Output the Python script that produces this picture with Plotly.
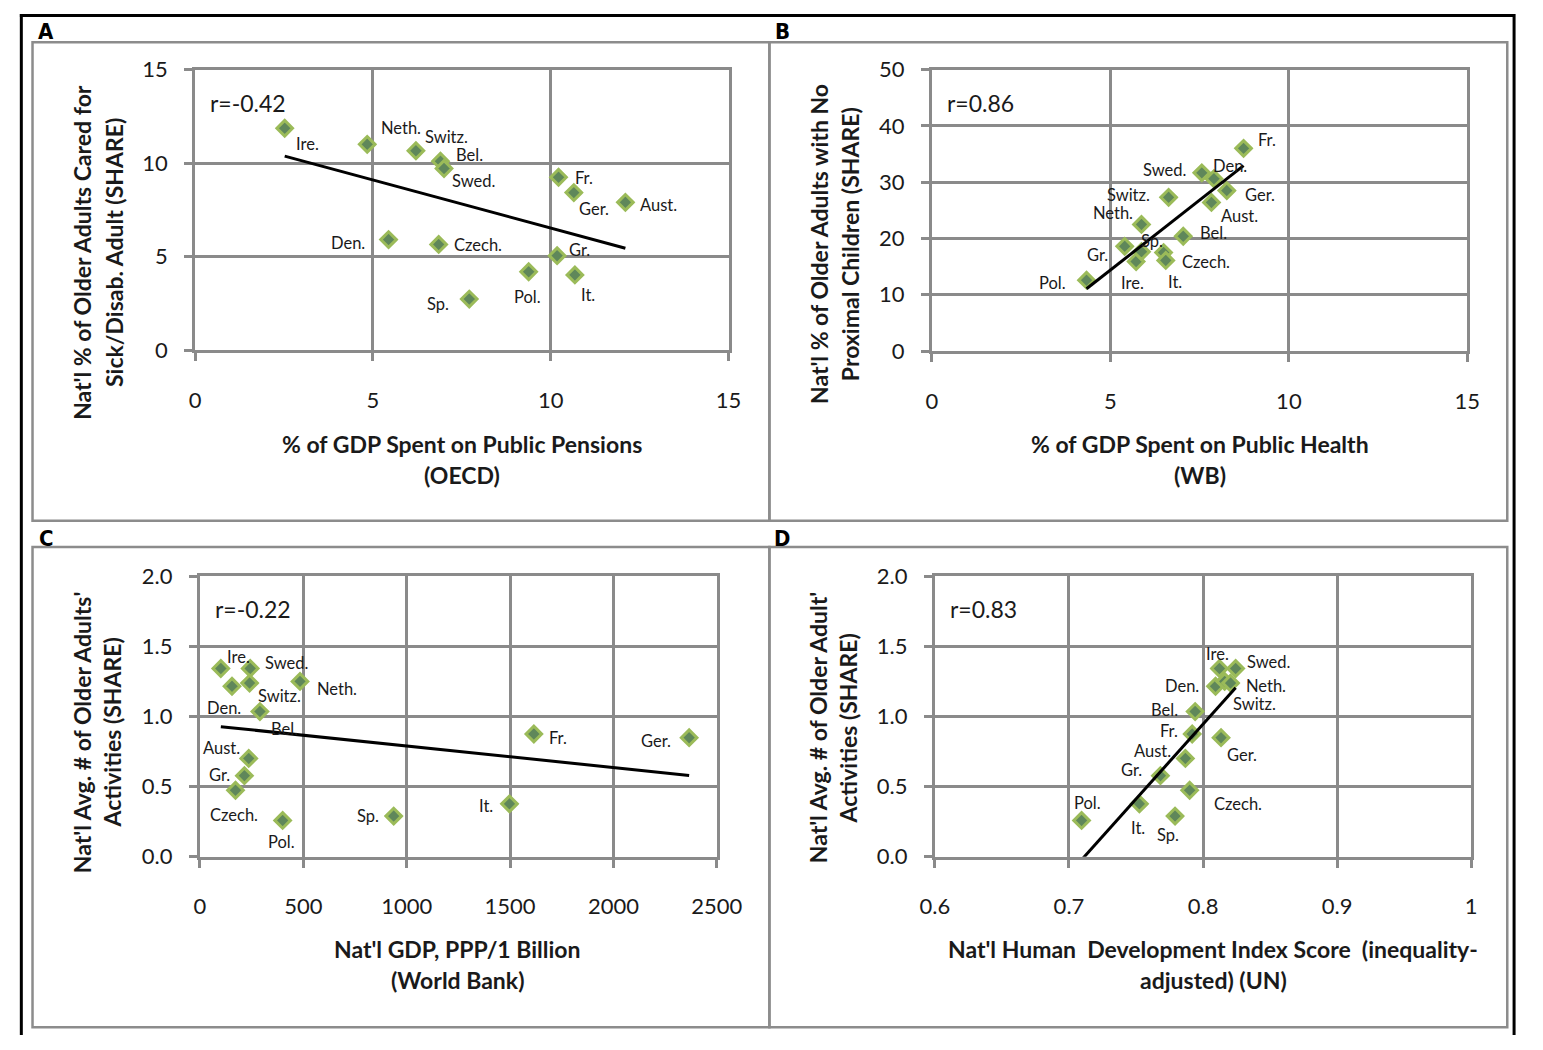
import numpy as np
import plotly.graph_objects as go

W, H = 1543, 1050

# ---- data ---------------------------------------------------------------
COUNTRIES = ["Aust.", "Bel.", "Czech.", "Den.", "Fr.", "Ger.", "Gr.",
             "Ire.", "It.", "Neth.", "Pol.", "Sp.", "Swed.", "Switz."]

# A: public pension spending vs. share caring for a sick/disabled adult
PENSION_GDP = [12.10, 6.90, 6.85, 5.44, 10.22, 10.65, 10.18,
               2.52, 10.68, 4.84, 9.38, 7.71, 7.00, 6.21]
CARED_SICK = [7.90, 10.10, 5.65, 5.91, 9.24, 8.42, 5.05,
              11.86, 4.02, 11.00, 4.19, 2.73, 9.71, 10.66]

# B: public health spending vs. share with no proximal children
HEALTH_GDP = [7.83, 7.04, 6.49, 7.90, 8.73, 8.26, 5.40,
              5.72, 6.55, 5.87, 4.33, 5.87, 7.56, 6.63]
NO_CHILDREN = [26.4, 20.4, 17.5, 30.6, 36.0, 28.5, 18.6,
               15.9, 16.1, 22.5, 12.6, 17.65, 31.65, 27.3]

# C and D: GDP and inequality-adjusted HDI vs. average number of activities
GDP_PPP_BN = [236, 290, 172, 155, 1615, 2366, 215,
              101, 1497, 484, 400, 937, 243, 240]
IHDI = [0.7868, 0.7941, 0.7900, 0.8093, 0.7919, 0.8134, 0.7682,
        0.8122, 0.7525, 0.8161, 0.7094, 0.7791, 0.8243, 0.8205]
ACTIVITIES = [0.701, 1.035, 0.474, 1.215, 0.875, 0.849, 0.578,
              1.342, 0.377, 1.250, 0.259, 0.290, 1.342, 1.238]

R_TEXT = {"A": "r=-0.42", "B": "r=0.86", "C": "r=-0.22", "D": "r=0.83"}

# ---- label placement (pixel offsets from each marker; +dy is downward) --
OFFS_A = {"Ire.": (23, 16), "Neth.": (34, -16), "Switz.": (31, -14),
          "Bel.": (29, -6), "Swed.": (29, 13), "Fr.": (25, 1),
          "Ger.": (20, 16), "Aust.": (33, 3), "Den.": (-41, 3),
          "Czech.": (39, 1), "Gr.": (22, -6), "Pol.": (-1, 25),
          "It.": (13, 20), "Sp.": (-31, 5)}
OFFS_B = {"Fr.": (23, -8), "Swed.": (-37, -3), "Den.": (16, -13),
          "Ger.": (33, 4), "Aust.": (28, 14), "Switz.": (-40, -2),
          "Neth.": (-28, -11), "Bel.": (30, -3), "Gr.": (-27, 9),
          "Sp.": (11, -11), "Ire.": (-4, 21), "Czech.": (42, 9),
          "It.": (9, 22), "Pol.": (-34, 3)}
OFFS_C = {"Ire.": (18, -11), "Swed.": (36, -5), "Switz.": (30, 13),
          "Neth.": (37, 8), "Den.": (-8, 22), "Bel.": (25, 17),
          "Fr.": (24, 4), "Ger.": (-33, 3), "Aust.": (-27, -10),
          "Gr.": (-25, -1), "Czech.": (-2, 25), "Pol.": (-1, 22),
          "Sp.": (-26, 0), "It.": (-23, 2)}
OFFS_D = {"Ire.": (-2, -14), "Swed.": (33, -6), "Den.": (-34, 0),
          "Neth.": (41, 5), "Switz.": (24, 21), "Bel.": (-31, -2),
          "Fr.": (-23, -3), "Ger.": (21, 17), "Aust.": (-33, -7),
          "Gr.": (-29, -6), "Czech.": (48, 14), "It.": (-1, 24),
          "Sp.": (-7, 19), "Pol.": (6, -17)}

# ---- styling --------------------------------------------------------------
FONT = "Lato, 'Open Sans', 'DejaVu Sans', sans-serif"
GRID = "#8a8a8a"
FILL = "#5f875a"
EDGE = "#9bbb59"
TXT = "#1a1a1a"


def px(x):
    return x / W


def py(y):
    return 1 - y / H


# plot areas in pixels: (left, right, top, bottom)
BOXES = {
    "A": (185, 733, 57, 345),
    "B": (942, 1492, 57, 346),
    "C": (190, 721, 577, 865),
    "D": (945, 1496, 577, 865),
}

panels = [
    ("A", PENSION_GDP, CARED_SICK, OFFS_A, [0, 15], 5, [0, 15], 5, "%d"),
    ("B", HEALTH_GDP, NO_CHILDREN, OFFS_B, [0, 15], 5, [0, 50], 10, "%d"),
    ("C", GDP_PPP_BN, ACTIVITIES, OFFS_C, [0, 2500], 500, [0, 2], 0.5, ".1f"),
    ("D", IHDI, ACTIVITIES, OFFS_D, [0.6, 1.0], 0.1, [0, 2], 0.5, ".1f"),
]

fig = go.Figure()
annotations = []
layout_axes = {}

for i, (key, xs, ys, offs, xr, xd, yr, yd, yfmt) in enumerate(panels):
    n = "" if i == 0 else str(i + 1)
    xa, ya = "x" + n, "y" + n
    l, r, t, b = BOXES[key]

    axis_common = dict(
        showgrid=True, gridcolor=GRID, gridwidth=3,
        showline=True, linecolor=GRID, linewidth=3, mirror=True,
        ticks="outside", ticklen=8, tickwidth=3, tickcolor=GRID,
        zeroline=False, tickfont=dict(family=FONT, size=22, color=TXT),
        fixedrange=True,
    )
    xaxis = dict(axis_common, domain=[px(l), px(r)], anchor=ya,
                 range=xr, dtick=xd, tick0=xr[0], ticklabelstandoff=20)
    if key == "D":
        xaxis["tickvals"] = [0.6, 0.7, 0.8, 0.9, 1.0]
        xaxis["ticktext"] = ["0.6", "0.7", "0.8", "0.9", "1"]
    yaxis = dict(axis_common, domain=[py(b), py(t)], anchor=xa,
                 range=yr, dtick=yd, tick0=yr[0], ticklabelstandoff=12)
    if yfmt != "%d":
        yaxis["tickformat"] = yfmt
    layout_axes["xaxis" + n] = xaxis
    layout_axes["yaxis" + n] = yaxis

    fig.add_trace(go.Scatter(
        x=xs, y=ys, mode="markers", xaxis=xa, yaxis=ya,
        marker=dict(symbol="diamond", size=12, color=FILL,
                    line=dict(color=EDGE, width=3)),
        hoverinfo="skip", showlegend=False,
    ))

    # least-squares trend line spanning the observed x range
    slope, icpt = np.polyfit(np.asarray(xs, float), np.asarray(ys, float), 1)
    lx = np.array([min(xs), max(xs)])
    fig.add_trace(go.Scatter(
        x=lx, y=slope * lx + icpt, mode="lines", xaxis=xa, yaxis=ya,
        line=dict(color="black", width=3), hoverinfo="skip", showlegend=False,
    ))

    for name, xv, yv in zip(COUNTRIES, xs, ys):
        dx, dy = offs[name]
        annotations.append(dict(
            x=xv, y=yv, xref=xa, yref=ya, text=name, showarrow=False,
            xshift=dx, yshift=-dy, font=dict(family=FONT, size=16.5, color=TXT),
        ))

    annotations.append(dict(
        x=px(l + 13), y=py(t + 34), xref="paper", yref="paper",
        text=R_TEXT[key], showarrow=False, xanchor="left", yanchor="middle",
        font=dict(family=FONT, size=23, color=TXT),
    ))

# ---- axis titles ----------------------------------------------------------
TITLE_FONT = dict(family=FONT, size=23, color=TXT)
x_titles = [
    (459, 441, "<b>% of GDP Spent on Public Pensions</b>"),
    (459, 473, "<b>(OECD)</b>"),
    (1217, 441, "<b>% of GDP Spent on Public Health</b>"),
    (1217, 473, "<b>(WB)</b>"),
    (455, 960, "<b>Nat'l GDP, PPP/1 Billion</b>"),
    (455, 992, "<b>(World Bank)</b>"),
    (1231, 960, "<b>Nat'l Human  Development Index Score  (inequality-</b>"),
    (1231, 992, "<b>adjusted) (UN)</b>"),
]
y_titles = [
    (69, 245, "<b>Nat'l % of Older Adults Cared for</b>"),
    (101, 245, "<b>Sick/Disab. Adult (SHARE)</b>"),
    (826, 236, "<b>Nat'l % of Older Adults with No</b>"),
    (858, 236, "<b>Proximal Children (SHARE)</b>"),
    (69, 737, "<b>Nat'l Avg. # of Older Adults'</b>"),
    (100, 737, "<b>Activities (SHARE)</b>"),
    (825, 733, "<b>Nat'l Avg. # of Older Adult'</b>"),
    (856, 733, "<b>Activities (SHARE)</b>"),
]
for xv, yv, txt in x_titles:
    annotations.append(dict(x=px(xv), y=py(yv), xref="paper", yref="paper",
                            text=txt, showarrow=False, font=TITLE_FONT,
                            xanchor="center", yanchor="middle"))
for xv, yv, txt in y_titles:
    annotations.append(dict(x=px(xv), y=py(yv), xref="paper", yref="paper",
                            text=txt, showarrow=False, font=TITLE_FONT,
                            textangle=-90, xanchor="center", yanchor="middle"))

# panel letters
LETTER_FONT = dict(family="'DejaVu Sans Condensed', 'Liberation Sans Narrow', sans-serif",
                   size=22, color="black")
for xv, yv, letter in [(32, 18, "A"), (788, 18, "B"), (32, 538, "C"), (788, 538, "D")]:
    annotations.append(dict(x=px(xv), y=py(yv), xref="paper", yref="paper",
                            text="<b>%s</b>" % letter, showarrow=False,
                            font=LETTER_FONT, xanchor="center", yanchor="middle"))

# ---- frames ---------------------------------------------------------------
shapes = []
for (x0, x1, y0, y1) in [(18, 775, 29, 520), (775, 1533, 29, 520),
                         (18, 775, 547, 1040), (775, 1533, 547, 1040)]:
    shapes.append(dict(type="rect", xref="paper", yref="paper",
                       x0=px(x0), x1=px(x1), y0=py(y1), y1=py(y0),
                       line=dict(color="#8c8c8c", width=2.5)))
# outer black edge (top, left, right)
for (x0, y0, x1, y1) in [(5, 1.5, 1541, 1.5), (6.5, 0, 6.5, 1048), (1540, 0, 1540, 1048)]:
    shapes.append(dict(type="line", xref="paper", yref="paper",
                       x0=px(x0), y0=py(y0), x1=px(x1), y1=py(y1),
                       line=dict(color="black", width=3)))

# the figure fills the browser viewport
fig.update_layout(
    autosize=True, margin=dict(l=0, r=0, t=0, b=0),
    paper_bgcolor="white", plot_bgcolor="white",
    annotations=annotations, shapes=shapes, showlegend=False,
    **layout_axes,
)

fig.write_html(
    "out.html",
    config={"displayModeBar": False, "responsive": True},
    default_width="100vw",
    default_height="100vh",
    post_script=("document.body.style.margin='0';"
                 "document.body.style.padding='0';"
                 "document.documentElement.style.overflow='hidden';"),
)
